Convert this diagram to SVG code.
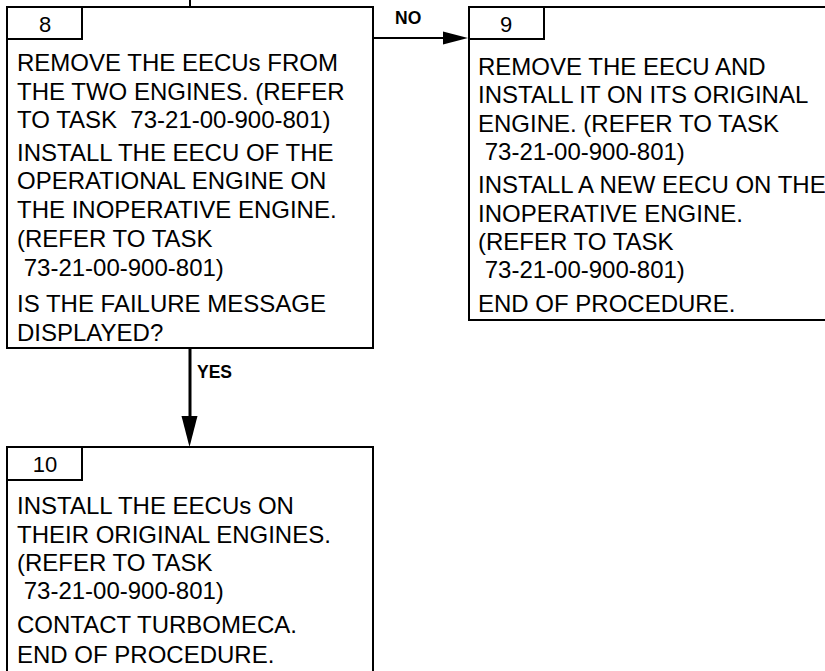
<svg xmlns="http://www.w3.org/2000/svg" width="825" height="671" viewBox="0 0 825 671">
<style>
.box{fill:#fff;stroke:#000;stroke-width:2}
.t{font-family:"Liberation Sans",Arial,sans-serif;font-size:24px;fill:#000}
.n{font-family:"Liberation Sans",Arial,sans-serif;font-size:22px;fill:#000;text-anchor:middle}
.lbl{font-family:"Liberation Sans",Arial,sans-serif;font-size:17.5px;font-weight:bold;fill:#000}
.c{stroke:#000;fill:none}
</style>
<g id="connectors">
<line class="c" x1="190" y1="0" x2="190" y2="8" stroke-width="2"/>
<line class="c" x1="373" y1="38" x2="443" y2="38" stroke-width="2"/>
<path d="M443,31.5 L468,38 L443,44.5 Z" fill="#000"/>
<text class="lbl" x="395" y="24">NO</text>
<line class="c" x1="190" y1="349" x2="190" y2="418" stroke-width="3"/>
<path d="M181.5,416 L189.5,447 L197.5,416 Z" fill="#000"/>
<text class="lbl" x="197" y="378">YES</text>
</g>
<g id="node8">
<rect class="box" x="7" y="7" width="366" height="341"/>
<rect class="box" x="7" y="7" width="75" height="32"/>
<text class="n" x="45" y="32">8</text>
<text class="t" x="17" y="71">REMOVE THE EECUs FROM</text>
<text class="t" x="17" y="100">THE TWO ENGINES. (REFER</text>
<text class="t" x="17" y="128" xml:space="preserve">TO TASK  73-21-00-900-801)</text>
<text class="t" x="17" y="161">INSTALL THE EECU OF THE</text>
<text class="t" x="17" y="189">OPERATIONAL ENGINE ON</text>
<text class="t" x="17" y="218">THE INOPERATIVE ENGINE.</text>
<text class="t" x="17" y="247">(REFER TO TASK</text>
<text class="t" x="23.7" y="276">73-21-00-900-801)</text>
<text class="t" x="17" y="312">IS THE FAILURE MESSAGE</text>
<text class="t" x="17" y="341">DISPLAYED?</text>
</g>
<g id="node9">
<rect class="box" x="469" y="7" width="370" height="313"/>
<rect class="box" x="469" y="7" width="75" height="32"/>
<text class="n" x="506" y="32">9</text>
<text class="t" x="478" y="75">REMOVE THE EECU AND</text>
<text class="t" x="478" y="103">INSTALL IT ON ITS ORIGINAL</text>
<text class="t" x="478" y="132">ENGINE. (REFER TO TASK</text>
<text class="t" x="484.7" y="160">73-21-00-900-801)</text>
<text class="t" x="478" y="193">INSTALL A NEW EECU ON THE</text>
<text class="t" x="478" y="222">INOPERATIVE ENGINE.</text>
<text class="t" x="478" y="250">(REFER TO TASK</text>
<text class="t" x="484.7" y="278">73-21-00-900-801)</text>
<text class="t" x="478" y="312">END OF PROCEDURE.</text>
</g>
<g id="node10">
<rect class="box" x="7" y="447" width="366" height="240"/>
<rect class="box" x="7" y="447" width="75" height="33"/>
<text class="n" x="45" y="472">10</text>
<text class="t" x="17" y="514">INSTALL THE EECUs ON</text>
<text class="t" x="17" y="543">THEIR ORIGINAL ENGINES.</text>
<text class="t" x="17" y="571">(REFER TO TASK</text>
<text class="t" x="23.7" y="599">73-21-00-900-801)</text>
<text class="t" x="17" y="633">CONTACT TURBOMECA.</text>
<text class="t" x="17" y="663">END OF PROCEDURE.</text>
</g>
</svg>
